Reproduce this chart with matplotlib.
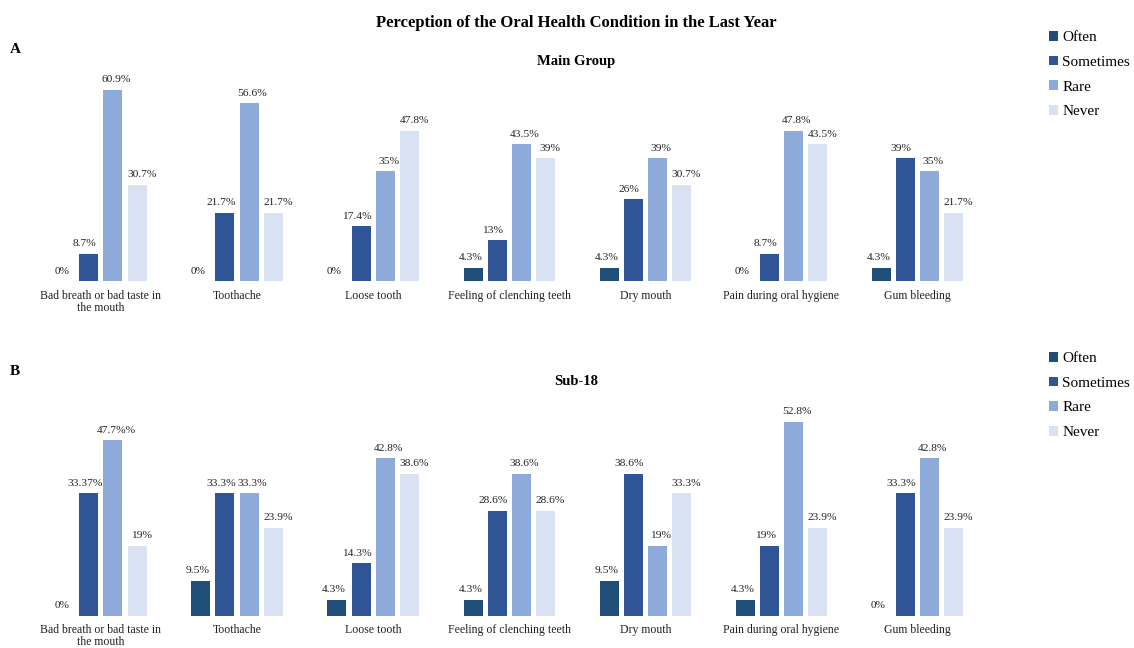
import numpy as np
import matplotlib
matplotlib.use("Agg")
import matplotlib.pyplot as plt

plt.rcParams['font.family'] = ['Liberation Serif', 'DejaVu Serif']

categories = ["Bad breath or bad taste in\nthe mouth", "Toothache", "Loose tooth",
              "Feeling of clenching teeth", "Dry mouth", "Pain during oral hygiene",
              "Gum bleeding"]
series = ["Often", "Sometimes", "Rare", "Never"]
colors = ["#1f4e79", "#2f5597", "#8eaadb", "#d9e2f3"]

# Main group (A)
main_often = [0, 0, 0, 4.3, 4.3, 0, 4.3]
main_sometimes = [8.7, 21.7, 17.4, 13, 26, 8.7, 39]
main_rare = [60.9, 56.6, 35, 43.5, 39, 47.8, 35]
main_never = [30.7, 21.7, 47.8, 39, 30.7, 43.5, 21.7]
main_labels = [
    ["0%", "0%", "0%", "4.3%", "4.3%", "0%", "4.3%"],
    ["8.7%", "21.7%", "17.4%", "13%", "26%", "8.7%", "39%"],
    ["60.9%", "56.6%", "35%", "43.5%", "39%", "47.8%", "35%"],
    ["30.7%", "21.7%", "47.8%", "39%", "30.7%", "43.5%", "21.7%"],
]

# Sub-18 (B)
sub_often = [0, 9.5, 4.3, 4.3, 9.5, 4.3, 0]
sub_sometimes = [33.37, 33.3, 14.3, 28.6, 38.6, 19, 33.3]
sub_rare = [47.7, 33.3, 42.8, 38.6, 19, 52.8, 42.8]
sub_never = [19, 23.9, 38.6, 28.6, 33.3, 23.9, 23.9]
sub_labels = [
    ["0%", "9.5%", "4.3%", "4.3%", "9.5%", "4.3%", "0%"],
    ["33.37%", "33.3%", "14.3%", "28.6%", "38.6%", "19%", "33.3%"],
    ["47.7%%", "33.3%", "42.8%", "38.6%", "19%", "52.8%", "42.8%"],
    ["19%", "23.9%", "38.6%", "28.6%", "33.3%", "23.9%", "23.9%"],
]

# small sideways nudge of the value labels per series (points)
label_dx = [-2, -3, 2.5, 3.5]


def draw_panel(ax, data, labels, ymax, legend_y):
    x = np.arange(len(categories))
    step = 0.177
    width = 0.14
    for i, (vals, col, name) in enumerate(zip(data, colors, series)):
        pos = x + (i - 1.5) * step
        bars = ax.bar(pos, vals, width=width, color=col, label=name)
        for b, txt in zip(bars, labels[i]):
            ax.annotate(txt, (b.get_x() + b.get_width() / 2, b.get_height()),
                        xytext=(label_dx[i], 4), textcoords="offset points",
                        ha="center", va="bottom", fontsize=8.2, color="#222222")
    ax.set_xlim(-0.5, len(categories) - 0.5)
    ax.set_ylim(0, ymax)
    ax.set_xticks(x)
    ax.set_xticklabels(categories, fontsize=8.5, color="#222222", linespacing=1.05)
    ax.tick_params(axis="x", length=0, pad=6)
    ax.set_yticks([])
    for s in ax.spines.values():
        s.set_visible(False)
    ax.legend(loc="upper left", bbox_to_anchor=(1.06, legend_y),
              frameon=False, fontsize=11, handlelength=0.6, handleheight=0.6,
              handletextpad=0.3, labelspacing=0.75, borderaxespad=0)


fig = plt.figure(figsize=(11.34, 6.48), dpi=100)
ax1 = fig.add_axes([0.029, 0.566, 0.84, 0.34])
ax2 = fig.add_axes([0.029, 0.05, 0.84, 0.34])

draw_panel(ax1, [main_often, main_sometimes, main_rare, main_never], main_labels, 70, 1.164)
draw_panel(ax2, [sub_often, sub_sometimes, sub_rare, sub_never], sub_labels, 60, 1.225)

fig.text(0.508, 0.965, "Perception of the Oral Health Condition in the Last Year",
         ha="center", va="center", fontsize=12, fontweight="bold")
fig.text(0.508, 0.905, "Main Group", ha="center", va="center", fontsize=10.5,
         fontweight="bold")
fig.text(0.508, 0.412, "Sub-18", ha="center", va="center", fontsize=10.5,
         fontweight="bold")
fig.text(0.009, 0.923, "A", ha="left", va="center", fontsize=11, fontweight="bold")
fig.text(0.009, 0.427, "B", ha="left", va="center", fontsize=11, fontweight="bold")

fig.savefig("out.png", dpi=100)
